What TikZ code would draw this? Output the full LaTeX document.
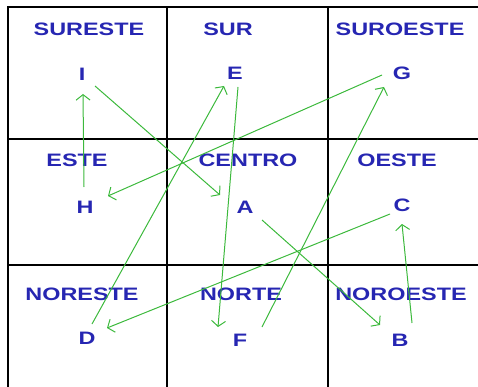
\documentclass[tikz,border=0pt]{standalone}
\usepackage{fontspec}
\newfontfamily\rotulo[FakeStretch=1.3]{Liberation Sans}
\usetikzlibrary{arrows.meta}
\definecolor{azul}{RGB}{38,38,178}
\definecolor{verde}{RGB}{60,185,60}

\begin{document}
\begin{tikzpicture}[x=1pt, y=-1pt,
    font=\rotulo\bfseries\fontsize{18}{18}\selectfont,
    letra/.style={text=azul, inner sep=0pt},
    flecha/.style={-{Straight Barb[length=5.5pt,width=14pt]}, verde, line width=1pt}]
  \useasboundingbox (0,0) rectangle (478,387);

  % Draw the grid (open at the right and at the bottom)
  \foreach \y in {139,265} {
    \draw[line width=1.5pt] (8,\y) -- (478,\y);
  }
  \foreach \x in {167,328} {
    \draw[line width=1.5pt] (\x,7) -- (\x,387);
  }
  \draw[line width=2.4pt] (478,7) -- (8,7) -- (8,387);

  % Cell headers
  \foreach \nombre/\x/\y/\texto in {sureste/89/29/SURESTE, sur/228/29/SUR,
      suroeste/400/29/SUROESTE, este/77/160/ESTE, centro/248/160/CENTRO,
      oeste/397/160/OESTE, noreste/82/294/NORESTE, norte/241/294/NORTE,
      noroeste/401/294/NOROESTE} {
    \node[letra] (\nombre) at (\x,\y) {\texto};
  }

  % Letters in the cells
  \foreach \l/\x/\y in {I/82/74, E/235/73, G/402/73, H/85/207, A/245/207,
      C/402/205, D/87/338, F/240/340, B/400/340} {
    \node[letra] (\l) at (\x,\y) {\l};
  }

  % Draw the arrows A -> B -> ... -> I -> A
  \draw[flecha] ([shift={(17,13)}]A.center) -- ([shift={(-20,-15)}]B.center);
  \draw[flecha] ([shift={(12,-17)}]B.center) -- ([shift={(0,19)}]C.center);
  \draw[flecha] ([shift={(-12,9)}]C.center) -- ([shift={(20,-10)}]D.center);
  \draw[flecha] ([shift={(5,-14)}]D.center) -- ([shift={(-11,13)}]E.center);
  \draw[flecha] ([shift={(3,14)}]E.center) -- ([shift={(-22,-13)}]F.center);
  \draw[flecha] ([shift={(22,-13)}]F.center) -- ([shift={(-18,14)}]G.center);
  \draw[flecha] ([shift={(-20,2)}]G.center) -- ([shift={(23,-11)}]H.center);
  \draw[flecha] ([shift={(-1,-20)}]H.center) -- ([shift={(1,20)}]I.center);
  \draw[flecha] ([shift={(13,12)}]I.center) -- ([shift={(-25,-12)}]A.center);
\end{tikzpicture}
\end{document}
